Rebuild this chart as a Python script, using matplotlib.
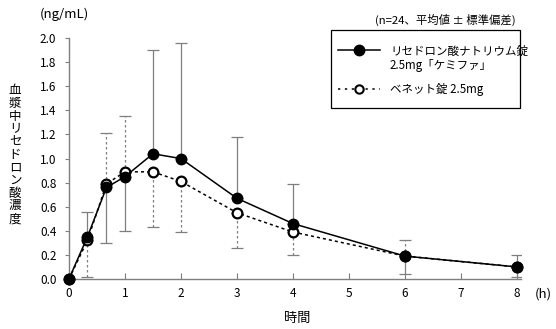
import matplotlib
matplotlib.use('Agg')
import matplotlib.pyplot as plt
import numpy as np
from matplotlib.lines import Line2D
from matplotlib.patches import Rectangle

plt.rcParams['font.family'] = ['Noto Sans CJK JP', 'DejaVu Sans']

# data
hours = [0, 0.33, 0.67, 1, 1.5, 2, 3, 4, 6, 8]
kemifa_mean = [0, 0.35, 0.76, 0.85, 1.04, 1.00, 0.67, 0.46, 0.19, 0.10]
kemifa_sd = [0, 0.21, 0.46, 0.45, 0.86, 0.96, 0.51, 0.33, 0.15, 0.10]
kemifa_up = [1, 1, 0, 0, 1, 1, 1, 1, 0, 1]   # 1 = bar drawn upward, 0 = downward
benet_mean = [0, 0.32, 0.79, 0.89, 0.89, 0.81, 0.55, 0.39, 0.19, 0.10]
benet_sd = [0, 0.30, 0.42, 0.46, 0.46, 0.42, 0.29, 0.19, 0.13, 0.08]
benet_up = [0, 0, 1, 1, 0, 0, 0, 0, 1, 0]
x_ticks = [0, 1, 2, 3, 4, 5, 6, 7, 8]
y_ticks = [0.0, 0.2, 0.4, 0.6, 0.8, 1.0, 1.2, 1.4, 1.6, 1.8, 2.0]

label_kemifa = ['リセドロン酸ナトリウム錠', '2.5mg「ケミファ」']
label_benet = 'ベネット錠 2.5mg'

W, H = 556, 329
fig = plt.figure(figsize=(W / 100, H / 100), dpi=100)
ax = fig.add_axes([0.124, 0.152, 0.813, 0.732])

grey = '#7f7f7f'


def px(x, y):
    # pixel position (from top-left) -> figure fraction
    return x / W, 1 - y / H


def split_err(sd, up):
    sd = np.array(sd)
    up = np.array(up)
    lower = np.where(up == 0, sd, 0)
    upper = np.where(up == 1, sd, 0)
    return [lower, upper]


eb1 = ax.errorbar(hours, kemifa_mean, yerr=split_err(kemifa_sd, kemifa_up), fmt='none',
                  ecolor=grey, elinewidth=0.9, capsize=4, capthick=0.9, zorder=2)
eb2 = ax.errorbar(hours, benet_mean, yerr=split_err(benet_sd, benet_up), fmt='none',
                  ecolor=grey, elinewidth=0.9, capsize=4, capthick=0.9, zorder=2)
for lc in eb2[2]:
    lc.set_linestyle((0, (2, 2)))

ax.plot(hours, benet_mean, color='black', lw=1.1, ls=(0, (2, 2)), marker='o',
        ms=7, mfc='white', mec='black', mew=1.6, zorder=3, clip_on=False)
ax.plot(hours, kemifa_mean, color='black', lw=1.1, marker='o', ms=7.5,
        mfc='black', mec='black', zorder=4, clip_on=False)

ax.set_xlim(0, 8.07)
ax.set_ylim(0, 2.0)
ax.set_xticks(x_ticks)
ax.set_yticks(y_ticks)
ax.set_yticklabels([f'{v:.1f}' for v in y_ticks])
for s in ['top', 'right']:
    ax.spines[s].set_visible(False)
for s in ['left', 'bottom']:
    ax.spines[s].set_color(grey)
    ax.spines[s].set_linewidth(1.0)
ax.tick_params(axis='x', direction='in', length=4, color=grey, labelsize=8.5, pad=6)
ax.tick_params(axis='y', direction='out', length=3, color=grey, labelsize=8.5, pad=6)

# legend drawn by hand: the handle sits on the first line of a two-line label
x0, y0 = px(331, 30)
x1, y1 = px(520, 108)
fig.add_artist(Rectangle((x0, y1), x1 - x0, y0 - y1, transform=fig.transFigure,
                         facecolor='white', edgecolor='black', lw=0.9, zorder=5))
hx0, _ = px(338, 0)
hx1, _ = px(380, 0)
hxm, _ = px(359, 0)
_, ya = px(0, 50)
fig.add_artist(Line2D([hx0, hx1], [ya, ya], color='black', lw=1.1, transform=fig.transFigure, zorder=6))
fig.add_artist(Line2D([hxm], [ya], marker='o', ms=7.5, mfc='black', mec='black',
                      transform=fig.transFigure, zorder=7))
_, yb = px(0, 89)
fig.add_artist(Line2D([hx0, hx1], [yb, yb], color='black', lw=1.1, ls=(0, (1.5, 3)),
                      transform=fig.transFigure, zorder=6))
fig.add_artist(Line2D([hxm], [yb], marker='o', ms=6, mfc='white', mec='black', mew=1.5,
                      transform=fig.transFigure, zorder=7))
tx, _ = px(390, 0)
for line, ypix in zip(label_kemifa, [51, 66]):
    fig.text(tx, px(0, ypix)[1], line, fontsize=8.3, ha='left', va='center', zorder=8)
fig.text(tx, px(0, 89)[1], label_benet, fontsize=8.3, ha='left', va='center', zorder=8)

fig.text(0.072, 0.955, '(ng/mL)', fontsize=9.5, ha='left', va='center')
fig.text(0.674, 0.94, '(n=24、平均値 ± 標準偏差)', fontsize=8.2, ha='left', va='center')
fig.text(0.962, 0.106, '(h)', fontsize=9.5, ha='left', va='center')
fig.text(0.535, 0.033, '時間', fontsize=9.5, ha='center', va='center')
fig.text(0.027, 0.53, '\n'.join('血漿中リセドロン酸濃度'), fontsize=9,
         ha='center', va='center', linespacing=0.98)

fig.savefig('out.png', dpi=100)
